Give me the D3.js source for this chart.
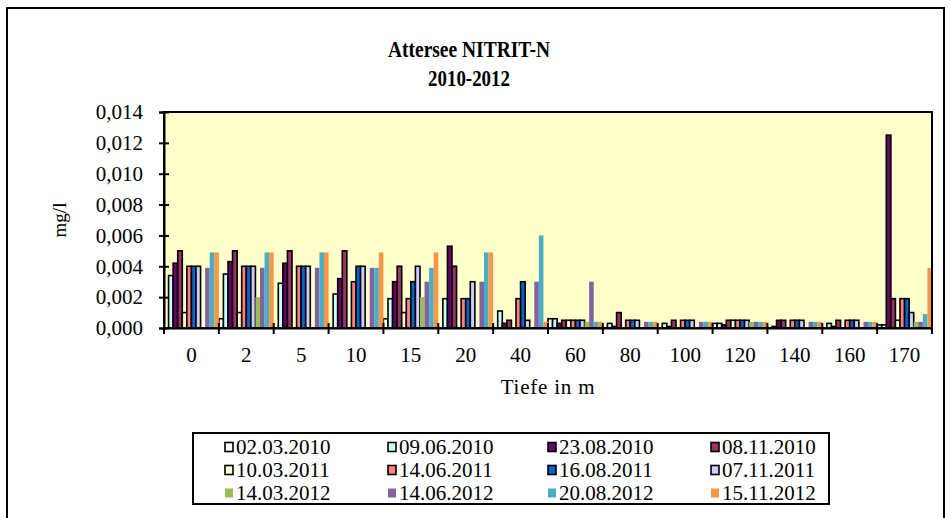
<!DOCTYPE html>
<html>
<head>
<meta charset="utf-8">
<script src="https://cdn.jsdelivr.net/npm/d3@7"></script>
<style>
  body { margin: 0; background: #fff; }
  svg { display: block; font-family: "Liberation Serif", "Times New Roman", serif; }
</style>
</head>
<body>
<div id="chart"></div>
<script>
// Tiefen (categories)
const depths = ["0", "2", "5", "10", "15", "20", "40", "60", "80", "100", "120", "140", "160", "170"];

// Sampling dates (series)
const dates = ["02.03.2010", "09.06.2010", "23.08.2010", "08.11.2010",
               "10.03.2011", "14.06.2011", "16.08.2011", "07.11.2011",
               "14.03.2012", "14.06.2012", "20.08.2012", "15.11.2012"];

// values in mg/l per depth, null = not measured
const s_020310 = [null, 0.0006, null, null, 0.0006, null, null, 0.0006, null, null, 0.0003, null, null, 0.0002];
const s_090610 = [0.0034, 0.0035, 0.0029, 0.0022, 0.0019, 0.0019, 0.0011, 0.0006, 0.0003, 0.0003, 0.0003, 0.0001, 0.0003, 0.0002];
const s_230810 = [0.0042, 0.0043, 0.0042, 0.0032, 0.003, 0.0053, 0.0003, 0.0003, 0.0001, 0.0001, 0.0002, 0.0005, 0.0001, 0.0125];
const s_081110 = [0.005, 0.005, 0.005, 0.005, 0.004, 0.004, 0.0005, 0.0005, 0.001, 0.0005, 0.0005, 0.0005, 0.0005, 0.0019];
const s_100311 = [0.001, 0.001, null, null, 0.001, null, null, 0.0005, null, null, 0.0005, null, null, 0.0005];
const s_140611 = [0.004, 0.004, 0.004, 0.003, 0.0019, 0.0019, 0.0019, 0.0005, 0.0005, 0.0005, 0.0005, 0.0005, 0.0005, 0.0019];
const s_160811 = [0.004, 0.004, 0.004, 0.004, 0.003, 0.0019, 0.003, 0.0005, 0.0005, 0.0005, 0.0005, 0.0005, 0.0005, 0.0019];
const s_071111 = [0.004, 0.004, 0.004, 0.004, 0.004, 0.003, 0.0005, 0.0005, 0.0005, 0.0005, 0.0005, 0.0005, 0.0005, 0.001];
const s_140312 = [null, 0.002, null, null, 0.002, null, null, 0.0004, null, null, 0.0004, null, null, 0.0004];
const s_140612 = [0.0039, 0.0039, 0.0039, 0.0039, 0.003, 0.003, 0.003, 0.003, 0.0004, 0.0004, 0.0004, 0.0004, 0.0004, 0.0004];
const s_200812 = [0.0049, 0.0049, 0.0049, 0.0039, 0.0039, 0.0049, 0.006, 0.0004, 0.0004, 0.0004, 0.0004, 0.0004, 0.0004, 0.0009];
const s_151112 = [0.0049, 0.0049, 0.0049, 0.0049, 0.0049, 0.0049, 0.0004, 0.0004, 0.0004, 0.0004, 0.0004, 0.0004, 0.0004, 0.0039];

const seriesValues = [s_020310, s_090610, s_230810, s_081110, s_100311, s_140611,
                      s_160811, s_071111, s_140312, s_140612, s_200812, s_151112];

const colors = ["#FFFFFF", "#CCFFFF", "#660066", "#993366", "#FFFFCC", "#FF8080",
                "#0066CC", "#CCCCFF", "#9BBB59", "#8064A2", "#4BACC6", "#F79646"];
// 2012 series are drawn without outline
const outlined = [true, true, true, true, true, true, true, true, false, false, false, false];

const yTicks = [0, 0.002, 0.004, 0.006, 0.008, 0.010, 0.012, 0.014];

const W = 950, H = 518;
const plot = { left: 164, right: 932, top: 112, bottom: 328 };

const svg = d3.select('#chart').append('svg')
    .attr('width', W)
    .attr('height', H);

// outer chart frame
svg.append('rect')
    .attr('x', 7).attr('y', 8)
    .attr('width', 937).attr('height', 530)
    .attr('fill', '#fff')
    .attr('stroke', '#000')
    .attr('stroke-width', 2);

// title (the original text is tall and narrow, so squeeze it a bit)
const title = svg.append('text')
    .attr('text-anchor', 'middle')
    .attr('font-size', '24px')
    .attr('font-weight', 'bold');
title.append('tspan').attr('x', 469).attr('y', 57)
    .attr('textLength', 162).attr('lengthAdjust', 'spacingAndGlyphs')
    .text('Attersee NITRIT-N');
title.append('tspan').attr('x', 469).attr('y', 86)
    .attr('textLength', 82).attr('lengthAdjust', 'spacingAndGlyphs')
    .text('2010-2012');

const x = d3.scaleBand()
    .domain(depths)
    .range([plot.left, plot.right])
    .padding(0);

const xInner = d3.scaleBand()
    .domain(d3.range(dates.length))
    .range([0, x.bandwidth()])
    .padding(0);

const y = d3.scaleLinear()
    .domain([0, 0.014])
    .range([plot.bottom, plot.top]);

// plot background
svg.append('rect')
    .attr('x', plot.left).attr('y', plot.top)
    .attr('width', plot.right - plot.left)
    .attr('height', plot.bottom - plot.top)
    .attr('fill', '#FFFFCC');

// bars, series drawn in order so later dates overlap earlier ones
const barData = [];
seriesValues.forEach((vals, si) => {
    vals.forEach((v, ci) => {
        if (v !== null) barData.push({ s: si, depth: depths[ci], value: v });
    });
});

svg.append('g').selectAll('rect')
    .data(barData)
    .join('rect')
    .attr('x', d => x(d.depth) + xInner(d.s))
    .attr('y', d => y(d.value))
    .attr('width', xInner.bandwidth())
    .attr('height', d => y(0) - y(d.value))
    .attr('fill', d => colors[d.s])
    .attr('stroke', d => outlined[d.s] ? '#000' : 'none')
    .attr('stroke-width', 1.6);

// plot frame on top
svg.append('rect')
    .attr('x', plot.left).attr('y', plot.top)
    .attr('width', plot.right - plot.left)
    .attr('height', plot.bottom - plot.top)
    .attr('fill', 'none')
    .attr('stroke', '#000')
    .attr('stroke-width', 2);

// y axis
const locale = d3.formatLocale({ decimal: ',', thousands: '.', grouping: [3], currency: ['', '€'] });
const fmt = locale.format('.3f');

const yAxis = svg.append('g')
    .attr('transform', `translate(${plot.left},0)`)
    .call(d3.axisLeft(y).tickValues(yTicks).tickFormat(fmt).tickSize(5).tickPadding(16));
yAxis.select('.domain').attr('stroke-width', 2);
yAxis.selectAll('.tick line').attr('x1', -5).attr('x2', 5).attr('stroke-width', 2);
yAxis.selectAll('.tick text')
    .attr('font-size', '21px')
    .attr('font-family', '"Liberation Serif", serif')
    .attr('fill', '#000');

// x axis: labels at category centres, cross ticks at category boundaries
const xAxis = svg.append('g')
    .attr('transform', `translate(0,${plot.bottom})`)
    .call(d3.axisBottom(x).tickSize(0).tickPadding(19));
xAxis.select('.domain').attr('stroke-width', 2);
xAxis.selectAll('.tick text')
    .attr('font-size', '21px')
    .attr('font-family', '"Liberation Serif", serif')
    .attr('fill', '#000');

const bounds = depths.map(d => x(d)).concat([x.range()[1]]);
svg.append('g').selectAll('line')
    .data(bounds)
    .join('line')
    .attr('x1', d => d).attr('x2', d => d)
    .attr('y1', plot.bottom - 5).attr('y2', plot.bottom + 6)
    .attr('stroke', '#000')
    .attr('stroke-width', 2);

// axis titles
svg.append('text')
    .attr('x', (plot.left + plot.right) / 2)
    .attr('y', 394)
    .attr('text-anchor', 'middle')
    .attr('font-size', '21px')
    .attr('letter-spacing', '0.8px')
    .text('Tiefe in m');

svg.append('text')
    .attr('transform', `translate(66,${(plot.top + plot.bottom) / 2}) rotate(-90)`)
    .attr('text-anchor', 'middle')
    .attr('font-size', '19px')
    .text('mg/l');

// legend
const legend = { x: 193, y: 433, w: 636, h: 71 };
svg.append('rect')
    .attr('x', legend.x).attr('y', legend.y)
    .attr('width', legend.w).attr('height', legend.h)
    .attr('fill', '#fff')
    .attr('stroke', '#000')
    .attr('stroke-width', 2);

const colX = [225, 388, 548, 711];
const rowY = [447, 470, 493];

const items = svg.append('g').selectAll('g')
    .data(dates)
    .join('g')
    .attr('transform', (d, i) => `translate(${colX[i % 4]},${rowY[Math.floor(i / 4)]})`);

items.append('rect')
    .attr('x', 0).attr('y', -4.5)
    .attr('width', 8).attr('height', 9)
    .attr('fill', (d, i) => colors[i])
    .attr('stroke', (d, i) => outlined[i] ? '#000' : 'none')
    .attr('stroke-width', 1.6);

items.append('text')
    .attr('x', 11)
    .attr('y', 7)
    .attr('font-size', '21px')
    .text(d => d);
</script>
</body>
</html>
